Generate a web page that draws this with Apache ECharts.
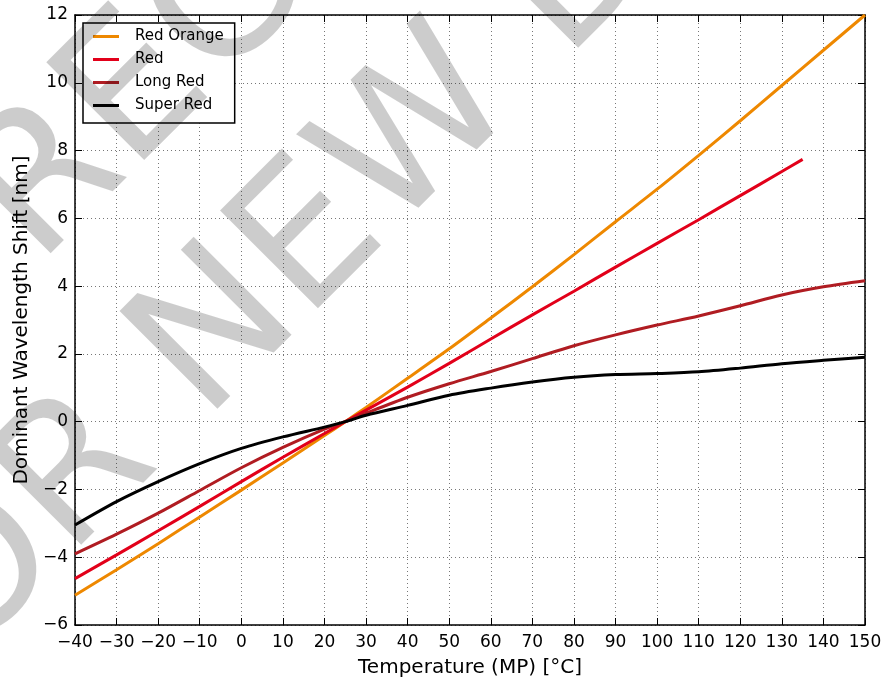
<!DOCTYPE html>
<html>
<head>
<meta charset="utf-8">
<script src="https://cdn.jsdelivr.net/npm/echarts@6/dist/echarts.min.js"></script>
<style>
  html, body { margin: 0; padding: 0; background: #fff; }
  #chart { width: 885px; height: 683px; }
</style>
</head>
<body>
<div id="chart"></div>
<script>
const temps = [-40, -30, -20, -10, 0, 10, 20, 25, 30, 40, 50, 60, 70, 80, 90, 100, 110, 120, 130, 140, 150];
const redTemps = [-40, -30, -20, -10, 0, 10, 20, 25, 30, 40, 50, 60, 70, 80, 90, 100, 110, 120, 130, 135];

// dominant wavelength shift [nm]
const redOrange = [-5.12, -4.37, -3.6, -2.81, -2.02, -1.22, -0.41, 0, 0.42, 1.28, 2.15, 3.06, 3.98, 4.93, 5.9, 6.86, 7.86, 8.88, 9.92, 10.96, 12.0];
const red = [-4.63, -3.93, -3.22, -2.5, -1.77, -1.05, -0.35, 0, 0.34, 1.02, 1.72, 2.44, 3.15, 3.85, 4.56, 5.26, 5.96, 6.67, 7.38, 7.74];
const longRed = [-3.9, -3.32, -2.7, -2.03, -1.36, -0.76, -0.22, 0, 0.25, 0.72, 1.12, 1.48, 1.86, 2.24, 2.56, 2.85, 3.12, 3.42, 3.74, 3.98, 4.16];
const superRed = [-3.05, -2.36, -1.77, -1.24, -0.79, -0.45, -0.16, 0, 0.19, 0.48, 0.78, 0.99, 1.17, 1.31, 1.39, 1.42, 1.47, 1.58, 1.71, 1.81, 1.9];

const seriesNames = ['Red Orange', 'Red', 'Long Red', 'Super Red'];
const seriesColors = ['#ee8800', '#e2001a', '#b01c22', '#000000'];

const FONT = 'DejaVu Sans';
const minus = (v) => String(v).replace('-', '\u2212');

function pairs(xs, ys) {
    return xs.map((x, i) => [x, ys[i]]);
}

const axisCommon = {
    axisLine: { show: true, onZero: false, lineStyle: { color: '#000', width: 1.5 } },
    axisTick: { show: true, inside: true, length: 7, lineStyle: { color: '#000', width: 1 } },
    splitLine: { show: true, lineStyle: { color: '#777', width: 1, type: [1, 3] } }
};

// watermark: translucent black on top == gray multiplied over the plot
const markStyle = {
    x: 0, y: -57, fill: 'rgba(0,0,0,0.2)',
    font: '190px "DejaVu Sans"', textAlign: 'left', textVerticalAlign: 'middle',
    align: 'left', verticalAlign: 'middle'
};

const chart = echarts.init(document.getElementById('chart'));
chart.setOption({
    backgroundColor: '#fff',
    animation: false,
    textStyle: { fontFamily: FONT },
    grid: { left: 75, right: 20, top: 15, bottom: 56 },
    legend: {
        left: 83,
        top: 23,
        orient: 'vertical',
        icon: 'rect',
        itemWidth: 26,
        itemHeight: 3,
        itemGap: 6,
        padding: [5, 11, 9, 10],
        backgroundColor: '#fff',
        borderColor: '#000',
        borderWidth: 1.5,
        borderRadius: 0,
        data: seriesNames,
        textStyle: { fontFamily: FONT, fontSize: 15, color: '#000', lineHeight: 17, padding: [0, 0, 0, 11] }
    },
    xAxis: [
        Object.assign({
            type: 'value', min: -40, max: 150, interval: 10,
            name: 'Temperature (MP) [°C]', nameLocation: 'middle', nameGap: 33,
            nameTextStyle: { fontFamily: FONT, fontSize: 20, color: '#000' },
            axisLabel: { fontFamily: FONT, fontSize: 17, color: '#000', margin: 9, formatter: minus }
        }, axisCommon),
        Object.assign({}, axisCommon, {
            type: 'value', min: -40, max: 150, interval: 10, position: 'top',
            axisLabel: { show: false }, splitLine: { show: false }
        })
    ],
    yAxis: [
        Object.assign({
            type: 'value', min: -6, max: 12, interval: 2,
            name: 'Dominant Wavelength Shift [nm]', nameLocation: 'middle', nameGap: 43,
            nameTextStyle: { fontFamily: FONT, fontSize: 20, color: '#000' },
            axisLabel: { fontFamily: FONT, fontSize: 17, color: '#000', margin: 7, formatter: minus }
        }, axisCommon),
        Object.assign({}, axisCommon, {
            type: 'value', min: -6, max: 12, interval: 2, position: 'right',
            axisLabel: { show: false }, splitLine: { show: false }
        })
    ],
    series: [
        { name: 'Red Orange', data: pairs(temps, redOrange) },
        { name: 'Red', data: pairs(redTemps, red) },
        { name: 'Long Red', data: pairs(temps, longRed) },
        { name: 'Super Red', data: pairs(temps, superRed) }
    ].map((s, i) => Object.assign({
        type: 'line',
        smooth: 0.3,
        showSymbol: false,
        color: seriesColors[i],
        lineStyle: { width: 3, color: seriesColors[i] }
    }, s)),
    graphic: [
        {
            type: 'text', x: -288, y: 603, rotation: Math.PI / 4, z: 100, silent: true,
            style: Object.assign({ text: 'NOT RECOMMENDED' }, markStyle)
        },
        {
            type: 'text', x: -109.5, y: 746.5, rotation: Math.PI / 4, z: 100, silent: true,
            style: Object.assign({ text: 'FOR NEW DESIGNS' }, markStyle)
        }
    ]
});
</script>
</body>
</html>
